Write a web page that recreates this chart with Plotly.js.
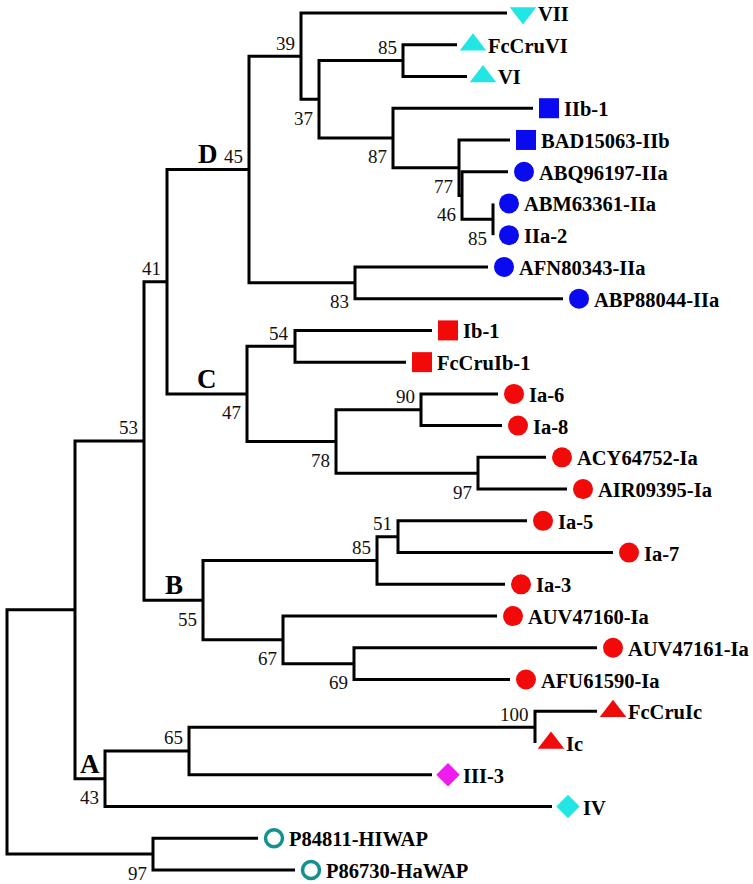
<!DOCTYPE html>
<html>
<head>
<meta charset="utf-8">
<script src="https://cdn.plot.ly/plotly-3.0.1.min.js"></script>
<style>
  html, body { margin: 0; padding: 0; background: #fff; }
  #tree { width: 753px; height: 884px; }
</style>
</head>
<body>
<div id="tree"></div>
<script>
// leaves, top to bottom
const leafNames = ['VII', 'FcCruVI', 'VI', 'IIb-1', 'BAD15063-IIb', 'ABQ96197-IIa', 'ABM63361-IIa', 'IIa-2',
  'AFN80343-IIa', 'ABP88044-IIa', 'Ib-1', 'FcCruIb-1', 'Ia-6', 'Ia-8', 'ACY64752-Ia', 'AIR09395-Ia',
  'Ia-5', 'Ia-7', 'Ia-3', 'AUV47160-Ia', 'AUV47161-Ia', 'AFU61590-Ia', 'FcCruIc', 'Ic', 'III-3', 'IV',
  'P84811-HIWAP', 'P86730-HaWAP'];
const leafDepth = [507, 457, 467, 533, 510, 508, 493, 493, 488, 563, 432, 406, 498, 502, 546, 567,
  527, 613, 505, 497, 597, 510, 597, 535, 432, 552, 258, 295];
const leafGroup = ['VII', 'VI', 'VI', 'IIb', 'IIb', 'IIa', 'IIa', 'IIa', 'IIa', 'IIa', 'Ib', 'Ib', 'Ia', 'Ia', 'Ia', 'Ia',
  'Ia', 'Ia', 'Ia', 'Ia', 'Ia', 'Ia', 'Ic', 'Ic', 'III', 'IV', 'WAP', 'WAP'];

// internal nodes
const nodeIds = ['root', 'n75', 'n53', 'n41', 'nD', 'n39', 'n37', 'n85a', 'n87', 'n77', 'n46', 'n85b', 'n83',
  'nC', 'n54', 'n78', 'n90', 'n97a', 'nB', 'n85c', 'n51', 'n67', 'n69', 'nA', 'n65', 'n100', 'n97b'];
const nodeDepth = [7, 75, 144, 167, 249, 301, 319, 403, 393, 459, 462, 493, 355,
  247, 295, 336, 421, 478, 203, 377, 398, 283, 354, 105, 189, 535, 153];
const nodeKids = [
  ['n75', 'n97b'], ['n53', 'nA'], ['n41', 'nB'], ['nD', 'nC'], ['n39', 'n83'], ['VII', 'n37'], ['n85a', 'n87'],
  ['FcCruVI', 'VI'], ['IIb-1', 'n77'], ['BAD15063-IIb', 'n46'], ['ABQ96197-IIa', 'n85b'], ['ABM63361-IIa', 'IIa-2'],
  ['AFN80343-IIa', 'ABP88044-IIa'], ['n54', 'n78'], ['Ib-1', 'FcCruIb-1'], ['n90', 'n97a'], ['Ia-6', 'Ia-8'],
  ['ACY64752-Ia', 'AIR09395-Ia'], ['n85c', 'n67'], ['n51', 'Ia-3'], ['Ia-5', 'Ia-7'], ['AUV47160-Ia', 'n69'],
  ['AUV47161-Ia', 'AFU61590-Ia'], ['n65', 'IV'], ['n100', 'III-3'], ['FcCruIc', 'Ic'], ['P84811-HIWAP', 'P86730-HaWAP']];
const nodeSupport = [null, null, 53, 41, 45, 39, 37, 85, 87, 77, 46, 85, 83,
  47, 54, 78, 90, 97, 55, 85, 51, 67, 69, 43, 65, 100, 97];
const supportSide = ['', '', 'up', 'up', 'up', 'up', 'down', 'up', 'down', 'down', 'down', 'down', 'down',
  'down', 'up', 'down', 'up', 'down', 'down', 'up', 'up', 'down', 'down', 'down', 'up', 'up', 'down'];

const cladeNames = ['D', 'C', 'B', 'A'];
const cladeNodes = ['nD', 'nC', 'nB', 'nA'];

const groupSymbol = { VII: 'triangle-down', VI: 'triangle-up', IIb: 'square', IIa: 'circle', Ib: 'square',
  Ia: 'circle', Ic: 'triangle-up', III: 'diamond', IV: 'diamond', WAP: 'circle-open' };
const groupColor = { VII: '#22e6e6', VI: '#22e6e6', IIb: '#0a0af0', IIa: '#0a0af0', Ib: '#f20a0a',
  Ia: '#f20a0a', Ic: '#f20a0a', III: '#ee1cee', IV: '#22e6e6', WAP: '#14908e' };
const groupSize = { VII: 23, VI: 23, IIb: 20, IIa: 20, Ib: 20, Ia: 20, Ic: 23, III: 18, IV: 18, WAP: 17 };

const serif = "'Liberation Serif', 'Times New Roman', Times, serif";

// position lookup
const pos = {};
leafNames.forEach((n, i) => { pos[n] = { x: leafDepth[i], y: i }; });
function place(id) {
  if (pos[id]) return pos[id];
  const k = nodeIds.indexOf(id);
  const ys = nodeKids[k].map(c => place(c).y);
  pos[id] = { x: nodeDepth[k], y: (Math.min(...ys) + Math.max(...ys)) / 2 };
  return pos[id];
}
nodeIds.forEach(place);
const parentOf = {};
nodeIds.forEach((id, k) => nodeKids[k].forEach(c => { parentOf[c] = id; }));

// branches
const bx = [], by = [];
nodeIds.forEach((id, k) => {
  const n = pos[id];
  const [a, b] = nodeKids[k].map(c => pos[c]);
  bx.push(a.x, n.x, n.x, b.x, null);
  by.push(a.y, a.y, b.y, b.y, null);
});

const traces = [{
  x: bx, y: by, mode: 'lines', type: 'scatter',
  line: { color: '#000', width: 3 }, hoverinfo: 'skip', showlegend: false,
}];

const markerX = leafDepth.map(d => d + 16);
traces.push({
  x: markerX, y: leafNames.map((n, i) => i), mode: 'markers', type: 'scatter', showlegend: false,
  marker: {
    symbol: leafGroup.map(g => groupSymbol[g]),
    color: leafGroup.map(g => groupColor[g]),
    size: leafGroup.map(g => groupSize[g]),
    opacity: 1,
    line: { width: leafGroup.map(g => g === 'WAP' ? 3.5 : 0), color: leafGroup.map(g => groupColor[g]) },
  },
  hoverinfo: 'text', text: leafNames,
});

const annotations = [];
leafNames.forEach((n, i) => {
  annotations.push({
    x: markerX[i], y: i, xref: 'x', yref: 'y', text: n, showarrow: false,
    xanchor: 'left', yanchor: 'middle', xshift: 13, yshift: -1,
    font: { family: serif, size: 20.5, color: '#000', weight: 'bold' },
  });
});
nodeIds.forEach((id, k) => {
  if (nodeSupport[k] === null) return;
  annotations.push({
    x: pos[id].x, y: pos[id].y, xref: 'x', yref: 'y', text: String(nodeSupport[k]), showarrow: false,
    xanchor: 'right', yanchor: 'middle', xshift: -4, yshift: supportSide[k] === 'up' ? 13 : -19,
    font: { family: serif, size: 19, color: '#111' },
  });
});
cladeNames.forEach((c, i) => {
  const id = cladeNodes[i];
  const par = pos[parentOf[id]];
  annotations.push({
    x: (par.x + pos[id].x) / 2, y: pos[id].y, xref: 'x', yref: 'y', text: c, showarrow: false,
    xanchor: 'center', yanchor: 'middle', yshift: 15,
    font: { family: serif, size: 27, color: '#000', weight: 'bold' },
  });
});

const rowPx = 31.74, topPx = 13;
const layout = {
  width: 753, height: 884,
  margin: { t: 0, r: 0, b: 0, l: 0 },
  xaxis: { range: [0, 753], visible: false, fixedrange: true },
  yaxis: { range: [(884 - topPx) / rowPx, -topPx / rowPx], visible: false, fixedrange: true },
  annotations: annotations,
  plot_bgcolor: '#fff', paper_bgcolor: '#fff',
  showlegend: false,
};

Plotly.newPlot('tree', traces, layout, { staticPlot: true });
</script>
</body>
</html>
